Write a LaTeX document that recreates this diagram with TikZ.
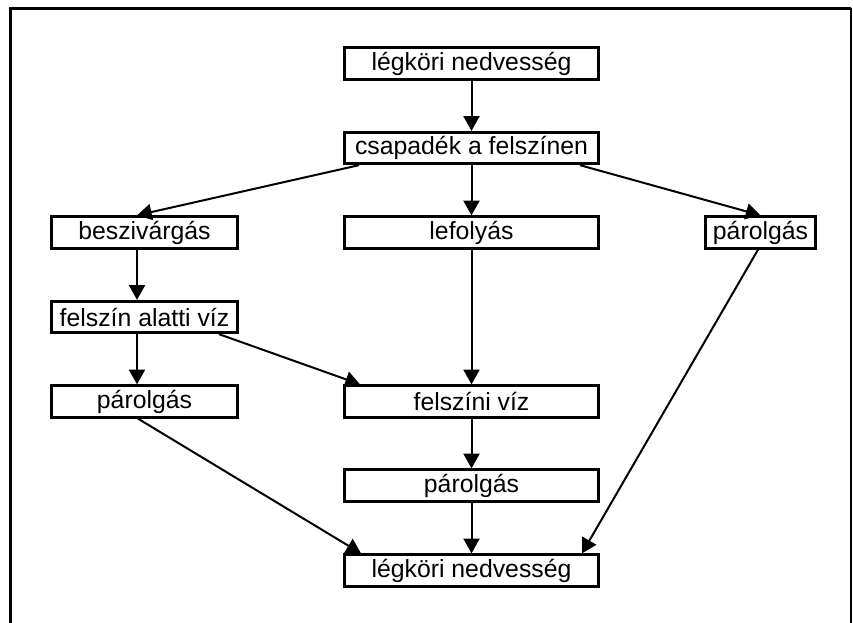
\documentclass[tikz,border=0pt]{standalone}
\usepackage{fontspec}
\setmainfont{Liberation Sans}
\usetikzlibrary{arrows.meta,calc}
\begin{document}
\begin{tikzpicture}[x=0.75pt,y=-0.75pt,>={Triangle[length=11pt,width=12pt]},
  font=\fontsize{18.6}{22}\selectfont, line join=miter,
  doboz/.style={draw,line width=2.25pt,rectangle,minimum height=23.5pt,inner sep=0pt,fill=white},
  szeles/.style={doboz,minimum width=190.5pt},
  bal/.style={doboz,minimum width=139.5pt},
  kicsi/.style={doboz,minimum width=82.5pt},
  nyil/.style={->,line width=1.5pt}]
\def\kx{471.5} \def\bx{144.5} \def\jx{760.5} % oszlopok
\useasboundingbox (0,0) rectangle (853,623);
\draw[line width=2.25pt] (10.5,623)--(10.5,8.5)--(851,8.5);
\draw[line width=1.5pt] (851,8.5)--(851,623);
% dobozok
\node[szeles] (legkor1) at (\kx,63.5) {légköri nedvesség};
\node[szeles] (csapadek) at (\kx,148) {csapadék a felszínen};
\node[bal] (beszivargas) at (\bx,232.5) {beszivárgás};
\node[szeles] (lefolyas) at (\kx,232.5) {lefolyás};
\node[kicsi] (parolgasJ) at (\jx,232.5) {párolgás};
\node[bal] (felszinalatti) at (\bx,317) {felszín alatti víz};
\node[bal] (parolgasB) at (\bx,401.5) {párolgás};
\node[szeles] (felszini) at (\kx,401.5) {felszíni víz};
\node[szeles] (parolgasK) at (\kx,485.5) {párolgás};
\node[szeles] (legkor2) at (\kx,570.5) {légköri nedvesség};
% nyilak
\draw[nyil] (legkor1)--(csapadek);
\draw[nyil] ($(csapadek.south west)+(16,0)$)--($(beszivargas.north)+(-7.5,0)$);
\draw[nyil] (csapadek)--(lefolyas);
\draw[nyil] ($(csapadek.south east)+(-20,0)$)--(parolgasJ.north);
\draw[nyil] ($(beszivargas.south)+(-7.5,0)$)--($(felszinalatti.north)+(-7.5,0)$);
\draw[nyil] ($(felszinalatti.south)+(-7.5,0)$)--($(parolgasB.north)+(-7.5,0)$);
\draw[nyil] ($(felszinalatti.south east)+(-20,0)$)--($(felszini.north west)+(17,0)$);
\draw[nyil] (lefolyas)--(felszini);
\draw[nyil] (felszini)--(parolgasK);
\draw[nyil] (parolgasK)--(legkor2);
\draw[nyil] ($(parolgasB.south)+(-6.5,0)$)--($(legkor2.north west)+(18,0)$);
\draw[nyil] ($(parolgasJ.south)+(-2.5,0)$)--($(legkor2.north east)+(-18,0)$);
\end{tikzpicture}
\end{document}
